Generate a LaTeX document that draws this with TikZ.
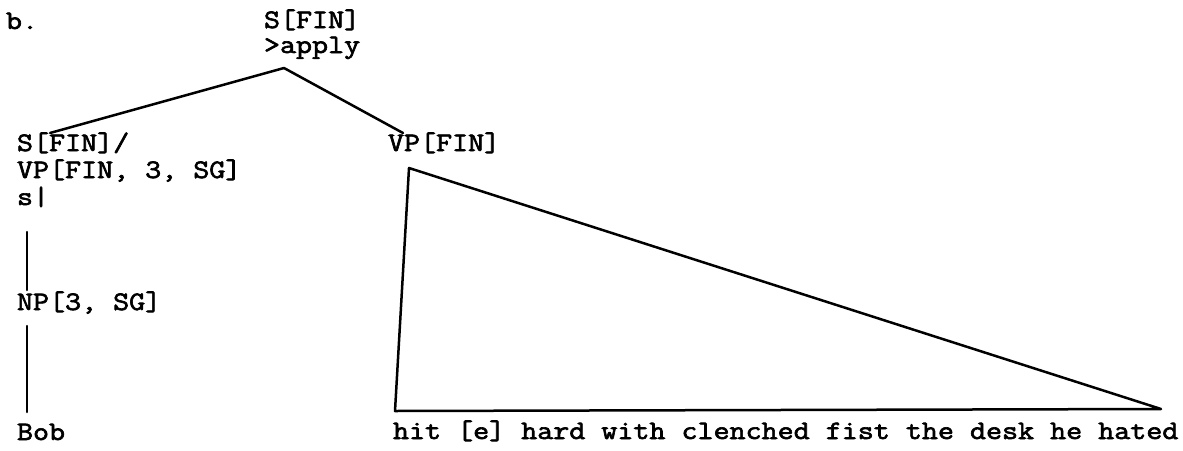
\documentclass[tikz,border=0pt]{standalone}
\usepackage{fontspec}
\newfontfamily\twfont{Latin Modern Mono}[FakeStretch=1.17,FakeBold=2.4]
\begin{document}
\begin{tikzpicture}[x=0.5pt,y=-0.5pt,
  lbl/.style={anchor=base west,inner sep=0pt,outer sep=0pt,
    font=\twfont\fontsize{13.3pt}{13.3pt}\selectfont},
  edge/.style={line width=1.25pt,line join=round,line cap=round}]
\useasboundingbox (0,0) rectangle (1183,450);
\fill[white] (0,0) rectangle (1183,450);
% labels
\node[lbl] (b) at (6,29) {b.};
\node[lbl] (root) at (264,28) {S[FIN]};
\node[lbl] (rootop) at (264,53) {>apply};
\node[lbl] (sfin) at (17,151) {S[FIN]/};
\node[lbl] (vpsg) at (17,178) {VP[FIN, 3, SG]};
\node[lbl] (s) at (17,205) {s|};
\node[lbl] (vp) at (388,151) {VP[FIN]};
\node[lbl] (np) at (17,310) {NP[3, SG]};
\node[lbl] (bob) at (17,440) {Bob};
\node[lbl] (yield) at (393,439) {hit [e] hard with clenched fist the desk he hated};
% connector end points
\coordinate (apex) at (284,68);
\coordinate (lend) at (50,133);
\coordinate (rend) at (403,133);
\coordinate (v1t) at (27,232);
\coordinate (v1b) at (27,290);
\coordinate (v2t) at (27,326);
\coordinate (v2b) at (27,412);
\coordinate (tA) at (409,168);
\coordinate (tL) at (395,411);
\coordinate (tR) at (1161,409);
% connectors
\draw[edge] (apex) -- (lend);
\draw[edge] (apex) -- (rend);
\draw[edge] (v1t) -- (v1b);
\draw[edge] (v2t) -- (v2b);
\draw[edge] (tL) -- (tA) -- (tR) -- cycle;
\end{tikzpicture}
\end{document}
